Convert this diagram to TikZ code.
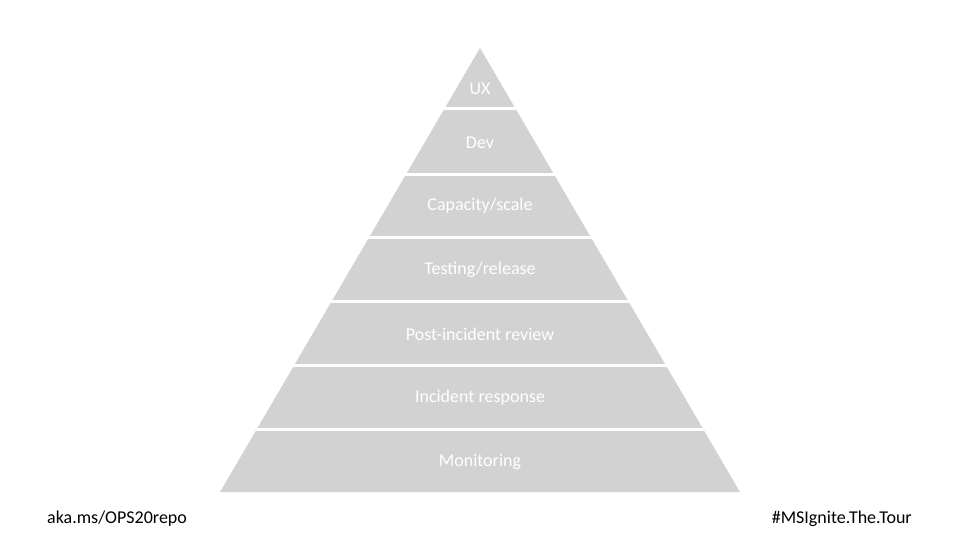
\documentclass[tikz,border=0pt]{standalone}
\usepackage{fontspec}
\setmainfont{Carlito}
\begin{document}
\begin{tikzpicture}[x=1pt,y=-1pt,
  lbl/.style={text=white,font=\fontsize{18}{20}\selectfont,inner sep=0pt},
  foot/.style={text=black,font=\fontsize{18}{20}\selectfont,inner sep=0pt}]
\useasboundingbox (0,0) rectangle (960,540);
\fill[white] (0,0) rectangle (960,540);
\fill[gray!35!white] (480,48) -- (740,492) -- (220,492) -- cycle;
\foreach \y in {109,174.5,237.5,301.5,365.5,429.5}
  \draw[white,line width=3pt] (200,\y) -- (760,\y);
\node[lbl] (ux) at (480,89) {UX};
\node[lbl] (dev) at (480,143) {Dev};
\node[lbl] (cap) at (480,206) {Capacity/scale};
\node[lbl] (test) at (480,270) {Testing/release};
\node[lbl] (post) at (480,334) {Post-incident review};
\node[lbl] (inc) at (480,398) {Incident response};
\node[lbl] (mon) at (480,462) {Monitoring};
\node[foot,anchor=west] (l) at (47,519) {aka.ms/OPS20repo};
\node[foot,anchor=east] (r) at (912,519) {\#MSIgnite.The.Tour};
\end{tikzpicture}
\end{document}
